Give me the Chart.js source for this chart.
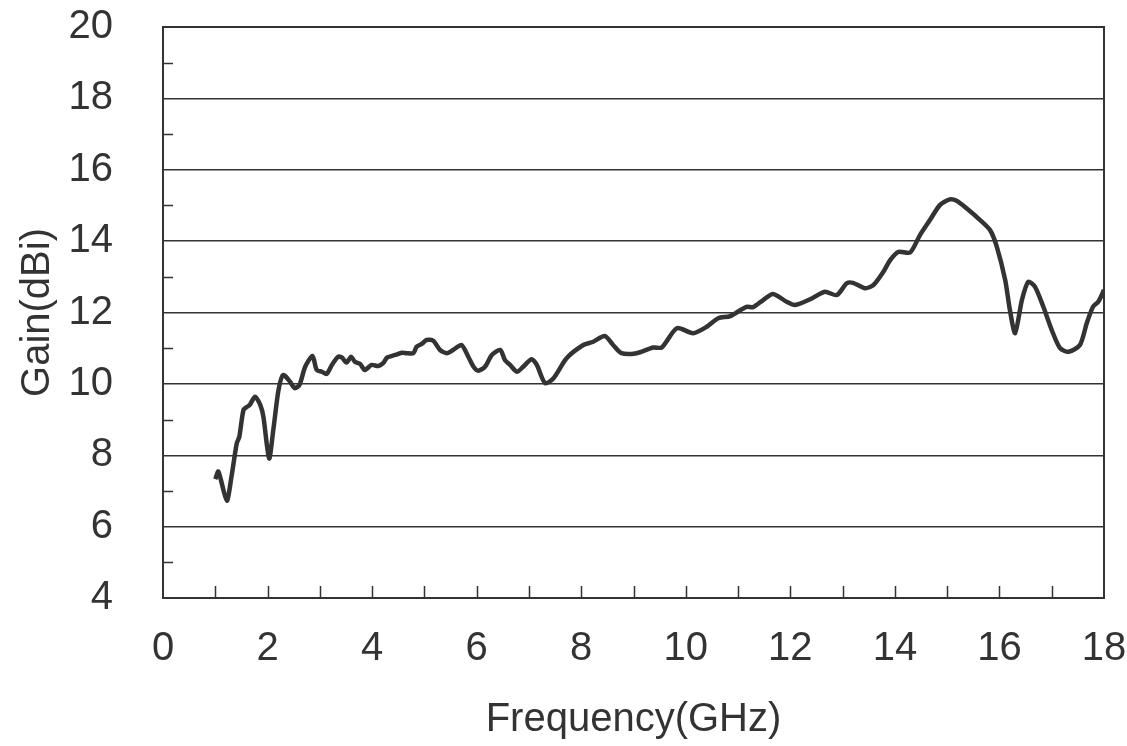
<!DOCTYPE html>
<html><head><meta charset="utf-8">
<script src="https://cdn.jsdelivr.net/npm/chart.js@4"></script>
<style>html,body{margin:0;padding:0;background:#fff}#wrap{width:1127px;height:746px}</style>
</head><body><div id="wrap"><canvas id="c" width="1127" height="746"></canvas></div>
<script>
const freqGHz = [1.00,1.06,1.22,1.31,1.41,1.46,1.54,1.61,1.66,1.76,
1.86,1.92,2.03,2.11,2.21,2.30,2.43,2.52,2.61,2.72,
2.86,2.94,3.04,3.13,3.23,3.35,3.42,3.51,3.60,3.67,
3.77,3.86,3.99,4.12,4.21,4.29,4.44,4.57,4.66,4.79,
4.85,4.95,5.04,5.17,5.30,5.43,5.55,5.71,5.84,5.94,
6.03,6.16,6.29,6.45,6.54,6.64,6.77,6.89,7.05,7.15,
7.31,7.47,7.72,8.04,8.23,8.45,8.61,8.77,9.06,9.38,
9.54,9.83,10.14,10.40,10.62,10.85,11.16,11.29,11.48,11.67,
11.93,12.09,12.38,12.66,12.89,13.08,13.20,13.43,13.59,13.78,
13.91,14.07,14.29,14.48,14.67,14.86,15.05,15.18,15.37,15.63,
15.82,15.95,16.11,16.20,16.30,16.43,16.55,16.68,16.84,17.00,
17.16,17.32,17.54,17.67,17.79,17.89,18.0];
const gainDBi = [7.33,7.54,6.73,7.40,8.33,8.52,9.27,9.36,9.41,9.64,
9.41,9.08,7.91,8.71,9.83,10.25,10.06,9.88,9.97,10.48,
10.78,10.39,10.34,10.28,10.53,10.76,10.74,10.60,10.76,10.62,
10.56,10.39,10.53,10.50,10.58,10.74,10.81,10.87,10.86,10.86,
11.04,11.12,11.23,11.21,10.95,10.86,10.95,11.09,10.76,10.48,
10.37,10.48,10.81,10.95,10.67,10.53,10.34,10.48,10.69,10.53,
10.02,10.16,10.72,11.09,11.18,11.34,11.09,10.86,10.86,11.02,
11.02,11.56,11.42,11.60,11.84,11.90,12.16,12.15,12.35,12.52,
12.30,12.21,12.37,12.58,12.49,12.82,12.83,12.68,12.77,13.14,
13.47,13.70,13.68,14.17,14.59,15.01,15.17,15.13,14.92,14.59,
14.31,13.84,12.91,12.07,11.42,12.35,12.86,12.72,12.16,11.51,
11.00,10.90,11.09,11.70,12.16,12.30,12.63];
const xTickLabels = [0,2,4,6,8,10,12,14,16,18];
const yTickLabels = [4,6,8,10,12,14,16,18,20];
const xTitle = 'Frequency(GHz)';
const yTitle = 'Gain(dBi)';

const FONT = 'Liberation Sans, Arial, sans-serif';
const INK = '#333333';

const innerTicks = {
  id: 'innerTicks',
  afterDraw(chart) {
    const {ctx, chartArea: a, scales: {x, y}} = chart;
    ctx.save();
    ctx.strokeStyle = INK;
    ctx.lineWidth = 1.5;
    ctx.beginPath();
    for (let f = 1; f < 18; f++) {
      const px = Math.round(x.getPixelForValue(f)) + 0.5;
      ctx.moveTo(px, a.bottom); ctx.lineTo(px, a.bottom - 12);
    }
    for (let g = 5; g < 20; g += 2) {
      const py = Math.round(y.getPixelForValue(g)) + 0.5;
      ctx.moveTo(a.left, py); ctx.lineTo(a.left + 10, py);
    }
    ctx.stroke();
    ctx.lineWidth = 2;
    ctx.strokeRect(a.left, a.top, a.right - a.left, a.bottom - a.top);
    ctx.restore();
  }
};

function zeroPad(s) { s.paddingTop = 0; s.paddingBottom = 0; s.paddingLeft = 0; s.paddingRight = 0; }

new Chart(document.getElementById('c'), {
  type: 'line',
  data: {
    datasets: [{
      data: freqGHz.map((f, i) => ({x: f, y: gainDBi[i]})),
      borderColor: '#333333',
      borderWidth: 4.5,
      pointRadius: 0,
      tension: 0.25,
      fill: false
    }]
  },
  options: {
    responsive: false,
    animation: false,
    layout: {padding: {left: 0, right: 23, top: 27, bottom: 0}},
    plugins: {legend: {display: false}, tooltip: {enabled: false}},
    scales: {
      x: {
        type: 'linear', min: 0, max: 18,
        afterBuildTicks: s => { s.ticks = xTickLabels.map(v => ({value: v})); },
        grid: {display: false, drawTicks: false},
        border: {display: true, color: INK, width: 2},
        ticks: {color: INK, font: {family: FONT, size: 40}, padding: 27, maxRotation: 0, autoSkip: false},
        title: {display: true, text: xTitle, color: INK, font: {family: FONT, size: 40}, padding: {top: 0, bottom: 2}},
        afterFit: s => { s.height = 746 - 598; zeroPad(s); }
      },
      y: {
        type: 'linear', min: 4, max: 20,
        afterBuildTicks: s => { s.ticks = yTickLabels.map(v => ({value: v})); },
        grid: {color: INK, lineWidth: 1.5, drawTicks: false},
        border: {display: true, color: INK, width: 2},
        ticks: {color: INK, font: {family: FONT, size: 40}, padding: 50},
        title: {display: true, text: yTitle, color: INK, font: {family: FONT, size: 40}, padding: {top: 14, bottom: 0}},
        afterFit: s => { s.width = 163; zeroPad(s); }
      }
    }
  },
  plugins: [innerTicks]
});
</script></body></html>
